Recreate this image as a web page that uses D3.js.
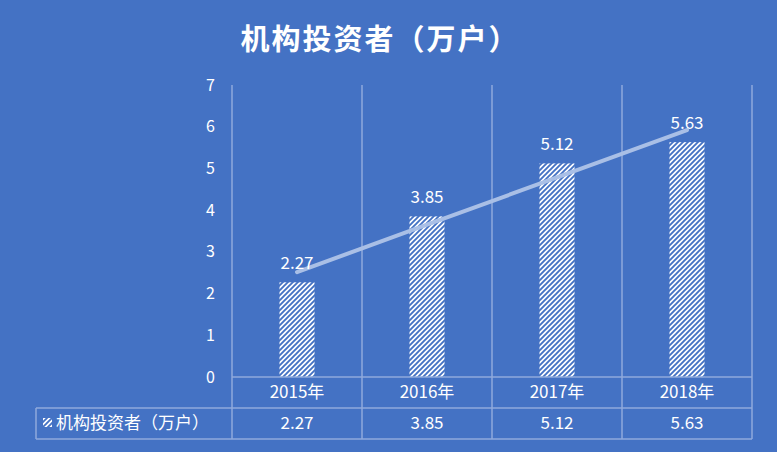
<!DOCTYPE html>
<html>
<head>
<meta charset="utf-8">
<script src="https://cdn.jsdelivr.net/npm/d3@7"></script>
<style>
  html, body { margin: 0; padding: 0; background: #4472c4; }
  svg { display: block; }
  text { font-family: "Noto Sans CJK SC", "Noto Sans", sans-serif; fill: #ffffff; }
</style>
</head>
<body>
<script>
const title = "机构投资者（万户）";
const seriesName = "机构投资者（万户）";
const categories = ["2015年", "2016年", "2017年", "2018年"];
const values = [2.27, 3.85, 5.12, 5.63];
const yTicks = [0, 1, 2, 3, 4, 5, 6, 7];

const W = 777, H = 452;
const bg = "#4472c4";
const gridColor = "#8faadc";

const svg = d3.select("body").append("svg").attr("width", W).attr("height", H);
svg.append("rect").attr("width", W).attr("height", H).attr("fill", bg);

const defs = svg.append("defs");
const pat = defs.append("pattern").attr("id", "hatch")
  .attr("patternUnits", "userSpaceOnUse").attr("width", 5).attr("height", 5);
pat.append("rect").attr("width", 5).attr("height", 5).attr("fill", "#ffffff");
pat.append("path").attr("d", "M-1,1 L1,-1 M0,5 L5,0 M4,6 L6,4")
  .attr("stroke", bg).attr("stroke-width", 1.9);

const plotLeft = 232, plotRight = 752, plotTop = 85, plotBottom = 377;
const row1 = 408, row2 = 439, legendLeft = 36;

const x = d3.scaleBand().domain(categories).range([plotLeft, plotRight]).padding(0);
const y = d3.scaleLinear().domain([0, 7]).range([plotBottom, plotTop]);
const barW = 35;

// title
svg.append("text").attr("x", 380).attr("y", 50).attr("text-anchor", "middle")
  .attr("font-size", 29).attr("font-weight", "bold").attr("letter-spacing", 2)
  .text(title);

// y tick labels
svg.append("g").selectAll("text").data(yTicks).join("text")
  .attr("x", 215).attr("y", d => y(d)).attr("dy", "0.35em")
  .attr("text-anchor", "end").attr("font-size", 16).text(d => d);

// bars
svg.append("g").selectAll("rect").data(values).join("rect")
  .attr("x", (d, i) => x(categories[i]) + (x.bandwidth() - barW) / 2)
  .attr("y", d => y(d)).attr("width", barW)
  .attr("height", d => plotBottom - y(d))
  .attr("fill", "url(#hatch)");

// grid / table lines
const lines = svg.append("g").attr("stroke", gridColor).attr("stroke-width", 1.5);
const bounds = categories.map(c => x(c)).concat([plotRight]);
bounds.forEach(bx => {
  lines.append("line").attr("x1", bx).attr("x2", bx).attr("y1", plotTop).attr("y2", row2);
});
lines.append("line").attr("x1", plotLeft).attr("x2", plotRight).attr("y1", plotBottom).attr("y2", plotBottom);
lines.append("line").attr("x1", legendLeft).attr("x2", plotRight).attr("y1", row1).attr("y2", row1);
lines.append("line").attr("x1", legendLeft).attr("x2", plotRight).attr("y1", row2).attr("y2", row2);
lines.append("line").attr("x1", legendLeft).attr("x2", legendLeft).attr("y1", row1).attr("y2", row2);

// linear trend line (least squares over category index)
const xs = values.map((d, i) => i + 1);
const mx = d3.mean(xs), my = d3.mean(values);
const b = d3.sum(xs.map((xi, i) => (xi - mx) * (values[i] - my))) / d3.sum(xs.map(xi => (xi - mx) ** 2));
const a = my - b * mx;
const trend = xs.map(xi => a + b * xi);
svg.append("path")
  .datum(trend)
  .attr("d", d3.line().x((d, i) => x(categories[i]) + x.bandwidth() / 2).y(d => y(d)))
  .attr("fill", "none").attr("stroke", "#a9bfe6").attr("stroke-width", 4)
  .attr("stroke-linecap", "round");

// data labels
svg.append("g").selectAll("text").data(values).join("text")
  .attr("x", (d, i) => x(categories[i]) + x.bandwidth() / 2)
  .attr("y", d => y(d) - 13)
  .attr("text-anchor", "middle").attr("font-size", 17).text(d => d.toFixed(2));

// table: category row
svg.append("g").selectAll("text").data(categories).join("text")
  .attr("x", d => x(d) + x.bandwidth() / 2).attr("y", (plotBottom + row1) / 2)
  .attr("dy", "0.35em").attr("text-anchor", "middle").attr("font-size", 17).text(d => d);

// table: values row
svg.append("g").selectAll("text").data(values).join("text")
  .attr("x", (d, i) => x(categories[i]) + x.bandwidth() / 2).attr("y", (row1 + row2) / 2)
  .attr("dy", "0.35em").attr("text-anchor", "middle").attr("font-size", 17).text(d => d.toFixed(2));

// legend key + name
svg.append("rect").attr("x", 43).attr("y", 418).attr("width", 9).attr("height", 9)
  .attr("fill", "url(#hatch)");
svg.append("text").attr("x", 56).attr("y", (row1 + row2) / 2).attr("dy", "0.35em")
  .attr("font-size", 17).text(seriesName);
</script>
</body>
</html>
